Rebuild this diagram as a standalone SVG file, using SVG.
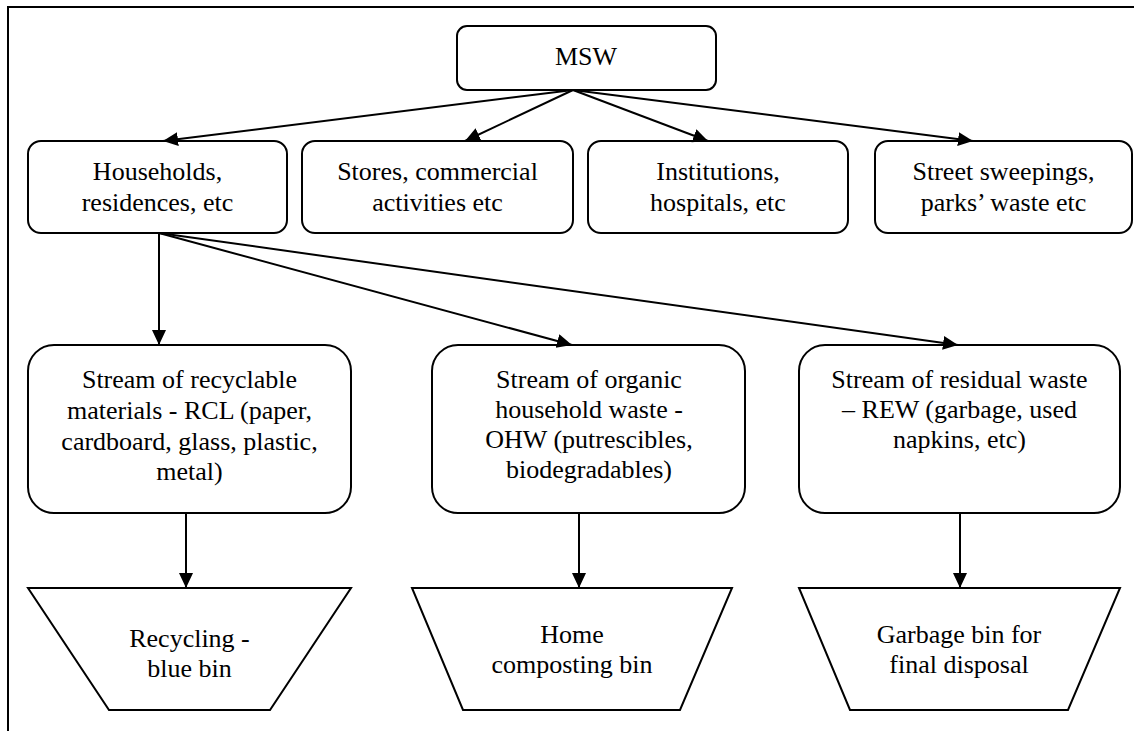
<svg xmlns="http://www.w3.org/2000/svg" width="1134" height="731" viewBox="0 0 1134 731" font-family="Liberation Serif, Times New Roman, serif" font-size="26">
<defs>
<marker id="ah" markerUnits="userSpaceOnUse" markerWidth="16" markerHeight="15" refX="15" refY="7" orient="auto" viewBox="0 0 16 15">
<path d="M0,0 L15,7 L0,14 z" fill="#000"/>
</marker>
</defs>
<style>
.box{fill:#fff;stroke:#000;stroke-width:2}
.t{fill:#000;text-anchor:middle}
.c line{stroke:#000;stroke-width:2;marker-end:url(#ah)}
</style>
<rect width="1134" height="731" fill="#fff"/>
<path d="M8,731 V7 H1134" fill="none" stroke="#000" stroke-width="2"/>
<g id="msw">
<rect class="box" x="457" y="26" width="259" height="64" rx="10"/>
<text class="t" x="586" y="65" font-family="Liberation Serif, serif" font-size="26">MSW</text>
</g>
<g id="households" font-family="Liberation Serif, serif" font-size="26">
<rect class="box" x="28" y="141" width="259" height="92" rx="13"/>
<text class="t" x="157.5" y="180">Households,</text>
<text class="t" x="157.5" y="211">residences, etc</text>
</g>
<g id="stores" font-family="Liberation Serif, serif" font-size="26">
<rect class="box" x="302" y="141" width="271" height="92" rx="13"/>
<text class="t" x="437.5" y="180">Stores, commercial</text>
<text class="t" x="437.5" y="211">activities etc</text>
</g>
<g id="institutions" font-family="Liberation Serif, serif" font-size="26">
<rect class="box" x="588" y="141" width="260" height="92" rx="13"/>
<text class="t" x="718" y="180">Institutions,</text>
<text class="t" x="718" y="211">hospitals, etc</text>
</g>
<g id="street" font-family="Liberation Serif, serif" font-size="26">
<rect class="box" x="875" y="141" width="257" height="92" rx="13"/>
<text class="t" x="1003.5" y="180">Street sweepings,</text>
<text class="t" x="1003.5" y="211">parks’ waste etc</text>
</g>
<g id="rcl" font-family="Liberation Serif, serif" font-size="26">
<rect class="box" x="28" y="345" width="323" height="168" rx="26"/>
<text class="t" x="189.5" y="388">Stream of recyclable</text>
<text class="t" x="189.5" y="419">materials - RCL (paper,</text>
<text class="t" x="189.5" y="450">cardboard, glass, plastic,</text>
<text class="t" x="189.5" y="480">metal)</text>
</g>
<g id="ohw" font-family="Liberation Serif, serif" font-size="26">
<rect class="box" x="432" y="345" width="313" height="168" rx="26"/>
<text class="t" x="589" y="388">Stream of organic</text>
<text class="t" x="589" y="418">household waste -</text>
<text class="t" x="589" y="448">OHW (putrescibles,</text>
<text class="t" x="589" y="478">biodegradables)</text>
</g>
<g id="rew" font-family="Liberation Serif, serif" font-size="26">
<rect class="box" x="799" y="345" width="321" height="168" rx="26"/>
<text class="t" x="959.5" y="388">Stream of residual waste</text>
<text class="t" x="959.5" y="418">– REW (garbage, used</text>
<text class="t" x="959.5" y="448">napkins, etc)</text>
</g>
<g id="bin-blue" font-family="Liberation Serif, serif" font-size="26">
<polygon class="box" points="28,588 351,588 270,710 109,710"/>
<text class="t" x="189.5" y="647">Recycling -</text>
<text class="t" x="189.5" y="677">blue bin</text>
</g>
<g id="bin-compost" font-family="Liberation Serif, serif" font-size="26">
<polygon class="box" points="412,588 732,588 680,710 463,710"/>
<text class="t" x="572" y="643">Home</text>
<text class="t" x="572" y="673">composting bin</text>
</g>
<g id="bin-garbage" font-family="Liberation Serif, serif" font-size="26">
<polygon class="box" points="799,588 1120,588 1068,710 850,710"/>
<text class="t" x="959" y="643">Garbage bin for</text>
<text class="t" x="959" y="673">final disposal</text>
</g>
<g class="c" id="connectors">
<line x1="573" y1="90" x2="163" y2="141"/>
<line x1="573" y1="90" x2="465" y2="141"/>
<line x1="573" y1="90" x2="708" y2="141"/>
<line x1="573" y1="90" x2="973" y2="141"/>
<line x1="159" y1="233" x2="159" y2="345"/>
<line x1="159" y1="233" x2="572" y2="345"/>
<line x1="159" y1="233" x2="958" y2="345"/>
<line x1="186" y1="513" x2="186" y2="588"/>
<line x1="579" y1="513" x2="579" y2="588"/>
<line x1="960" y1="513" x2="960" y2="588"/>
</g>
</svg>
